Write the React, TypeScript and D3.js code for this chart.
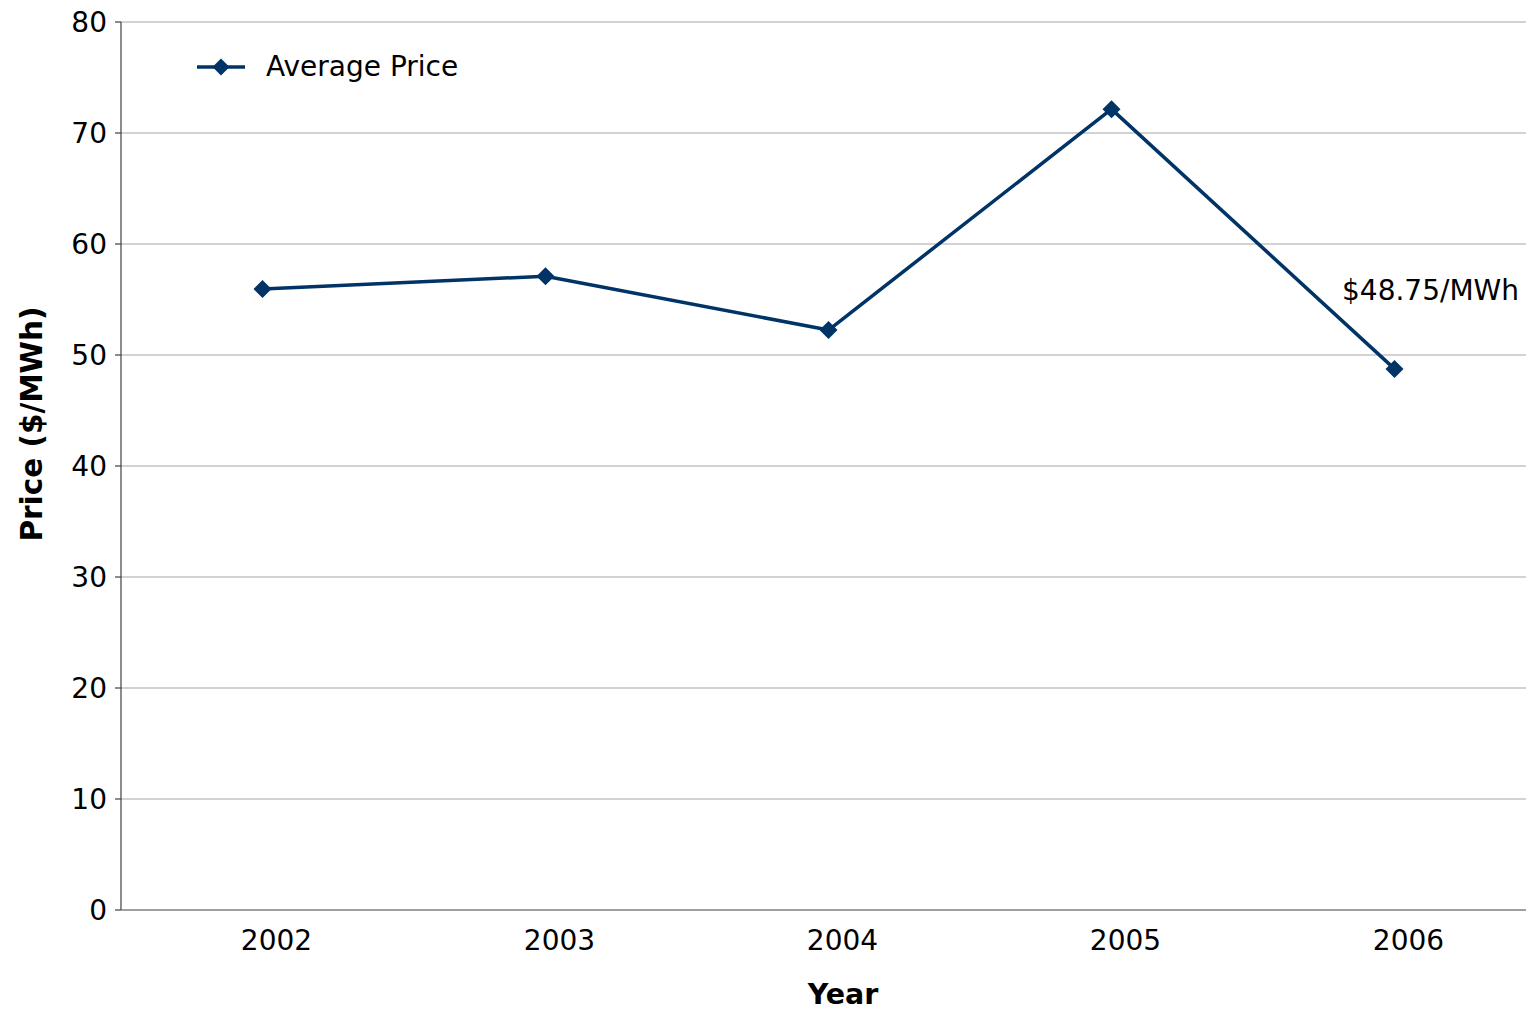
import React from "react";
import * as d3 from "d3";

const years = ["2002", "2003", "2004", "2005", "2006"];
const prices = [55.95, 57.1, 52.25, 72.15, 48.75];
const yTicks = [0, 10, 20, 30, 40, 50, 60, 70, 80];
const seriesName = "Average Price";
const annotation = "$48.75/MWh";

const W = 1526;
const H = 1011;
const left = 121;
const top = 22;
const bottom = 910;
const color = "#003366";
const font = "'DejaVu Sans', Verdana, sans-serif";

export default function App() {
  const x = d3.scaleBand<string>().domain(years).range([left, left + 1415]);
  const y = d3.scaleLinear().domain([0, 80]).range([bottom, top]);
  const cx = (d: string) => (x(d) as number) + x.bandwidth() / 2;
  const line = d3
    .line<number>()
    .x((_, i) => cx(years[i]))
    .y((d) => y(d));
  const diamond = (px: number, py: number, r = 9) =>
    `M${px},${py - r}L${px + r},${py}L${px},${py + r}L${px - r},${py}Z`;

  return (
    <svg
      width={W}
      height={H}
      style={{ position: "absolute", left: 0, top: 0, background: "#fff" }}
      fontFamily={font}
    >
      <rect width={W} height={H} fill="#fff" />
      {yTicks.map((t) => (
        <g key={t}>
          {t > 0 && (
            <line x1={left} x2={W} y1={y(t)} y2={y(t)} stroke="#a6a6a6" strokeWidth={1.2} />
          )}
          <line x1={left - 6} x2={left} y1={y(t)} y2={y(t)} stroke="#404040" strokeWidth={1.2} />
          <text x={left - 14} y={y(t) + 10} textAnchor="end" fontSize={28} fill="#000">
            {t}
          </text>
        </g>
      ))}
      <line x1={left} x2={left} y1={top} y2={bottom} stroke="#404040" strokeWidth={1.2} />
      <line x1={left} x2={W} y1={bottom} y2={bottom} stroke="#808080" strokeWidth={1.5} />
      {years.map((yr) => (
        <text key={yr} x={cx(yr) + 14} y={950} textAnchor="middle" fontSize={28} fill="#000">
          {yr}
        </text>
      ))}
      <path d={line(prices) || ""} fill="none" stroke={color} strokeWidth={3.5} strokeLinejoin="round" />
      {prices.map((p, i) => (
        <path key={i} d={diamond(cx(years[i]), y(p))} fill={color} />
      ))}
      <text x={1519} y={300} textAnchor="end" fontSize={28} fill="#000">
        {annotation}
      </text>
      <line x1={197} x2={245} y1={67} y2={67} stroke={color} strokeWidth={3.5} />
      <path d={diamond(221, 67, 8.5)} fill={color} />
      <text x={266} y={76} fontSize={28} fill="#000">
        {seriesName}
      </text>
      <text x={843} y={1004} textAnchor="middle" fontSize={28.5} fontWeight="bold" fill="#000">
        Year
      </text>
      <text
        transform={`translate(42, 424) rotate(-90)`}
        textAnchor="middle"
        fontSize={29.5}
        fontWeight="bold"
        fill="#000"
      >
        Price ($/MWh)
      </text>
    </svg>
  );
}
